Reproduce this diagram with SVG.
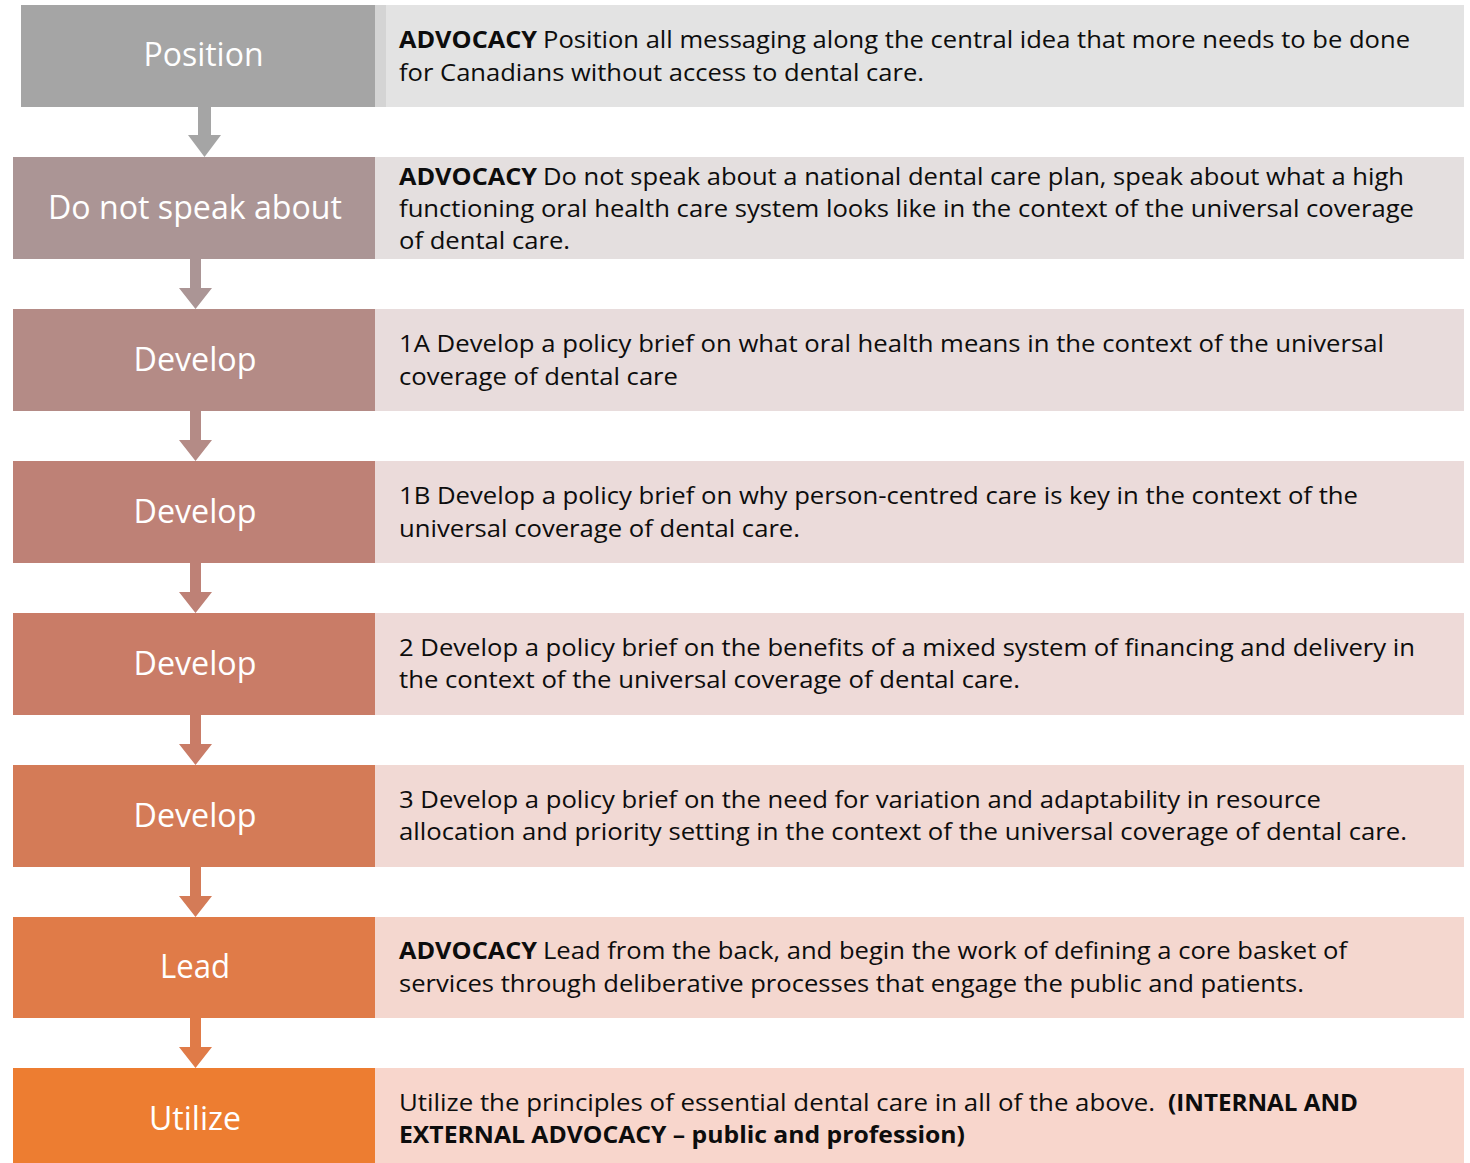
<svg xmlns="http://www.w3.org/2000/svg" width="1470" height="1163" viewBox="0 0 1470 1163">
<style>
.lbl{font-family:"Open Sans","Noto Sans",sans-serif;font-size:32px;fill:#ffffff;text-anchor:middle}
.t{font-family:"Open Sans","Noto Sans",sans-serif;font-size:24px;fill:#0d0d0d}
.b{font-weight:bold}
</style>
<rect width="1470" height="1163" fill="#ffffff"/>
<g id="connectors">
<path d="M198 107 H211 V135 H221 L204.5 157 L188 135 H198 Z" fill="#a5a5a5"/>
<path d="M190 259 H201 V288 H212 L195.5 309 L179 288 H190 Z" fill="#ab9595"/>
<path d="M190 411 H201 V440 H212 L195.5 461 L179 440 H190 Z" fill="#b48b86"/>
<path d="M190 563 H201 V592 H212 L195.5 613 L179 592 H190 Z" fill="#be8176"/>
<path d="M190 715 H201 V744 H212 L195.5 765 L179 744 H190 Z" fill="#c97c67"/>
<path d="M190 867 H201 V896 H212 L195.5 917 L179 896 H190 Z" fill="#d47b57"/>
<path d="M190 1018 H201 V1047 H212 L195.5 1068 L179 1047 H190 Z" fill="#e07b48"/>
</g>
<g id="row1">
<rect x="386" y="5" width="1078" height="102" fill="#e3e3e3"/>
<rect x="375" y="5" width="11" height="102" fill="#d4d4d4"/>
<rect x="21" y="5" width="354" height="102" fill="#a5a5a5"/>
<text class="lbl" x="203.5" y="66" textLength="120" lengthAdjust="spacingAndGlyphs">Position</text>
<text class="t b" x="399" y="48" textLength="138" lengthAdjust="spacingAndGlyphs">ADVOCACY</text>
<text class="t" x="543" y="48" textLength="867" lengthAdjust="spacingAndGlyphs">Position all messaging along the central idea that more needs to be done</text>
<text class="t" x="399" y="81" textLength="525" lengthAdjust="spacingAndGlyphs">for Canadians without access to dental care.</text>
</g>
<g id="row2">
<rect x="375" y="157" width="1089" height="102" fill="#e4dfdf"/>
<rect x="13" y="157" width="362" height="102" fill="#ab9595"/>
<text class="lbl" x="195" y="219" textLength="294" lengthAdjust="spacingAndGlyphs">Do not speak about</text>
<text class="t b" x="399" y="185" textLength="138" lengthAdjust="spacingAndGlyphs">ADVOCACY</text>
<text class="t" x="543" y="185" textLength="861" lengthAdjust="spacingAndGlyphs">Do not speak about a national dental care plan, speak about what a high</text>
<text class="t" x="399" y="217" textLength="1015" lengthAdjust="spacingAndGlyphs">functioning oral health care system looks like in the context of the universal coverage</text>
<text class="t" x="399" y="249" textLength="171" lengthAdjust="spacingAndGlyphs">of dental care.</text>
</g>
<g id="row3">
<rect x="375" y="309" width="1089" height="102" fill="#e8dcdc"/>
<rect x="13" y="309" width="362" height="102" fill="#b48b86"/>
<text class="lbl" x="195" y="371" textLength="123" lengthAdjust="spacingAndGlyphs">Develop</text>
<text class="t" x="399" y="352" textLength="985" lengthAdjust="spacingAndGlyphs">1A Develop a policy brief on what oral health means in the context of the universal</text>
<text class="t" x="399" y="385" textLength="279" lengthAdjust="spacingAndGlyphs">coverage of dental care</text>
</g>
<g id="row4">
<rect x="375" y="461" width="1089" height="102" fill="#ebdbda"/>
<rect x="13" y="461" width="362" height="102" fill="#be8176"/>
<text class="lbl" x="195" y="523" textLength="123" lengthAdjust="spacingAndGlyphs">Develop</text>
<text class="t" x="399" y="504" textLength="959" lengthAdjust="spacingAndGlyphs">1B Develop a policy brief on why person-centred care is key in the context of the</text>
<text class="t" x="399" y="537" textLength="401" lengthAdjust="spacingAndGlyphs">universal coverage of dental care.</text>
</g>
<g id="row5">
<rect x="375" y="613" width="1089" height="102" fill="#eedad8"/>
<rect x="13" y="613" width="362" height="102" fill="#c97c67"/>
<text class="lbl" x="195" y="675" textLength="123" lengthAdjust="spacingAndGlyphs">Develop</text>
<text class="t" x="399" y="656" textLength="1016" lengthAdjust="spacingAndGlyphs">2 Develop a policy brief on the benefits of a mixed system of financing and delivery in</text>
<text class="t" x="399" y="688" textLength="621" lengthAdjust="spacingAndGlyphs">the context of the universal coverage of dental care.</text>
</g>
<g id="row6">
<rect x="375" y="765" width="1089" height="102" fill="#f1d9d4"/>
<rect x="13" y="765" width="362" height="102" fill="#d47b57"/>
<text class="lbl" x="195" y="827" textLength="123" lengthAdjust="spacingAndGlyphs">Develop</text>
<text class="t" x="399" y="808" textLength="922" lengthAdjust="spacingAndGlyphs">3 Develop a policy brief on the need for variation and adaptability in resource</text>
<text class="t" x="399" y="840" textLength="1008" lengthAdjust="spacingAndGlyphs">allocation and priority setting in the context of the universal coverage of dental care.</text>
</g>
<g id="row7">
<rect x="375" y="917" width="1089" height="101" fill="#f4d7cf"/>
<rect x="13" y="917" width="362" height="101" fill="#e07b48"/>
<text class="lbl" x="195" y="978" textLength="70" lengthAdjust="spacingAndGlyphs">Lead</text>
<text class="t b" x="399" y="959" textLength="138" lengthAdjust="spacingAndGlyphs">ADVOCACY</text>
<text class="t" x="543" y="959" textLength="804" lengthAdjust="spacingAndGlyphs">Lead from the back, and begin the work of defining a core basket of</text>
<text class="t" x="399" y="992" textLength="905" lengthAdjust="spacingAndGlyphs">services through deliberative processes that engage the public and patients.</text>
</g>
<g id="row8">
<rect x="375" y="1068" width="1089" height="95" fill="#f8d6cc"/>
<rect x="13" y="1068" width="362" height="95" fill="#ed7d31"/>
<text class="lbl" x="195" y="1130" textLength="92" lengthAdjust="spacingAndGlyphs">Utilize</text>
<text class="t" x="399" y="1111" textLength="756" lengthAdjust="spacingAndGlyphs">Utilize the principles of essential dental care in all of the above.</text>
<text class="t b" x="1168" y="1111" textLength="190" lengthAdjust="spacingAndGlyphs">(INTERNAL AND</text>
<text class="t b" x="399" y="1143" textLength="566" lengthAdjust="spacingAndGlyphs">EXTERNAL ADVOCACY – public and profession)</text>
</g>
</svg>
